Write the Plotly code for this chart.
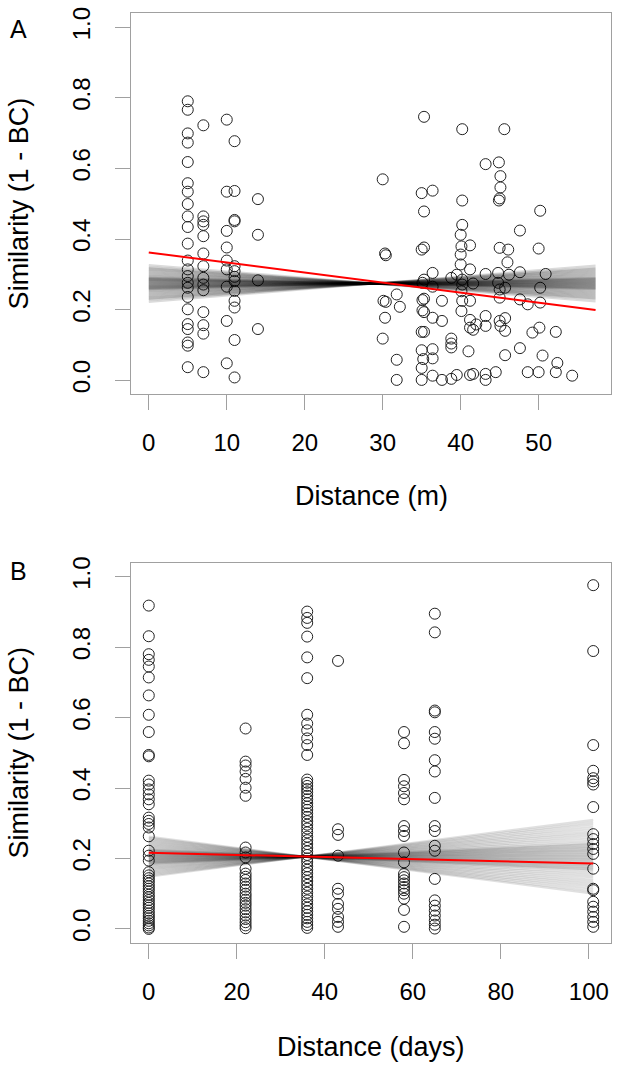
import plotly.graph_objects as go

# ---------------- Panel A data (distance in metres) ----------------
dist_m = (
    [5] * 23 + [7] * 14 + [10] * 9 + [11] * 13 + [14] * 4 +
    [35.3, 40.2, 45.6, 43.2, 44.9, 45.1, 45.1, 45.0, 44.9, 30.0, 35.0, 36.4, 35.3, 40.2, 50.2,
     47.6, 40.2, 40.0, 40.1, 41.2, 30.3, 30.4, 35.0, 35.3, 45.0, 46.1, 50.0, 40.0, 46.0, 40.0,
     41.2, 36.4, 38.8, 39.5, 43.2, 44.8, 46.2, 47.6, 50.9, 35.3, 35.1, 40.2, 40.2, 41.6, 44.8,
     45.0, 45.7, 50.2, 36.4, 31.8, 30.1, 30.4, 32.2, 35.1, 35.3, 37.6, 40.2, 41.2, 45.0, 47.6,
     48.6, 50.2, 30.3, 35.1, 35.3, 36.4, 37.6, 40.1, 41.2, 41.2, 41.6, 43.2, 43.2, 45.0, 45.7,
     45.7, 45.1, 50.1, 49.2, 52.2, 30.0, 35.0, 35.3, 38.8, 38.8, 38.8, 35.0, 36.4, 41.0, 47.6,
     45.7, 50.5, 31.8, 35.2, 36.4, 35.0, 52.4, 31.8, 35.0, 36.4, 37.6, 38.8, 39.5, 41.2, 41.6,
     43.2, 43.2, 44.5, 48.6, 50.0, 52.2, 54.3, 40.1, 42.0]
)
sim_m = (
    [0.790, 0.766, 0.699, 0.673, 0.618, 0.558, 0.534, 0.499, 0.464, 0.434, 0.387, 0.339,
     0.314, 0.295, 0.276, 0.262, 0.236, 0.201, 0.159, 0.145, 0.107, 0.098, 0.037] +
    [0.722, 0.464, 0.450, 0.440, 0.408, 0.359, 0.323, 0.290, 0.271, 0.255, 0.193, 0.156,
     0.132, 0.023] +
    [0.738, 0.534, 0.423, 0.376, 0.339, 0.314, 0.265, 0.168, 0.048] +
    [0.677, 0.536, 0.454, 0.450, 0.323, 0.309, 0.293, 0.281, 0.253, 0.225, 0.206, 0.114, 0.008] +
    [0.513, 0.412, 0.283, 0.145] +
    [0.746, 0.711, 0.711, 0.612, 0.617, 0.578, 0.546, 0.515, 0.509, 0.569, 0.530, 0.537, 0.478,
     0.509, 0.480, 0.424, 0.440, 0.412, 0.379, 0.382, 0.359, 0.354, 0.370, 0.376, 0.375, 0.370,
     0.373, 0.356, 0.334, 0.328, 0.314, 0.304, 0.290, 0.299, 0.301, 0.304, 0.299, 0.306, 0.301,
     0.285, 0.276, 0.285, 0.271, 0.274, 0.276, 0.257, 0.262, 0.262, 0.265, 0.243, 0.225, 0.222,
     0.208, 0.227, 0.231, 0.225, 0.225, 0.225, 0.234, 0.229, 0.215, 0.220, 0.177, 0.198, 0.193,
     0.177, 0.168, 0.196, 0.171, 0.149, 0.143, 0.182, 0.154, 0.168, 0.176, 0.140, 0.154, 0.149,
     0.135, 0.137, 0.118, 0.137, 0.137, 0.118, 0.104, 0.093, 0.085, 0.088, 0.082, 0.091, 0.071,
     0.070, 0.058, 0.060, 0.062, 0.035, 0.049, 0.001, 0.001, 0.013, 0.001, 0.004, 0.015, 0.015,
     0.018, 0.018, 0.001, 0.023, 0.023, 0.023, 0.023, 0.013, 0.252, 0.158]
)

# regression (red) and permutation fan for panel A
fit_A_intercept = 0.362
fit_A_slope = -0.00285
fit_A_xmax = 57.3
perm_A_pivot = (29.0, 0.274)
perm_A_slopes = [-0.0018, -0.0016, -0.0015, -0.0014, -0.0013, -0.0012, -0.0011, -0.0010,
                 -0.0009, -0.0008, -0.0007, -0.0006, -0.00055, -0.0005, -0.00045, -0.0004,
                 -0.00035, -0.0003, -0.00025, -0.0002, -0.00015, -0.0001, -0.00005, 0.0,
                 0.00005, 0.0001, 0.00015, 0.0002, 0.00025, 0.0003, 0.00035, 0.0004, 0.00045,
                 0.0005, 0.00055, 0.0006, 0.0007, 0.0008, 0.0009, 0.0010, 0.0011, 0.0012,
                 0.0013, 0.0014, 0.0015, 0.0016, 0.0018]

# ---------------- Panel B data (distance in days) ----------------
day_columns = [0, 22, 36, 43, 58, 65, 101]
sim_day0 = [0.918, 0.831, 0.780, 0.764, 0.745, 0.714, 0.663, 0.608, 0.559, 0.494, 0.490, 0.421,
            0.410, 0.396, 0.382, 0.368, 0.354, 0.316, 0.307, 0.298, 0.288, 0.263, 0.222, 0.208,
            0.194, 0.161, 0.152, 0.144, 0.137, 0.129, 0.121, 0.114, 0.106, 0.097, 0.090, 0.082,
            0.074, 0.067, 0.060, 0.052, 0.044, 0.037, 0.030, 0.023, 0.016, 0.010, 0.004, 0.0]
sim_day22 = [0.569, 0.475, 0.464, 0.447, 0.426, 0.401, 0.378, 0.231, 0.217, 0.203, 0.171,
             0.157, 0.148, 0.139, 0.129, 0.120, 0.111, 0.100, 0.092, 0.083, 0.074, 0.066,
             0.056, 0.047, 0.038, 0.028, 0.019, 0.010, 0.002]
sim_day36 = [0.901, 0.883, 0.869, 0.830, 0.771, 0.712, 0.608, 0.583, 0.564, 0.541, 0.522, 0.494,
             0.424, 0.415, 0.406, 0.397, 0.388, 0.378, 0.368, 0.357, 0.347, 0.338, 0.328, 0.318,
             0.306, 0.296, 0.285, 0.274, 0.262, 0.252, 0.241, 0.230, 0.220, 0.210, 0.200, 0.190,
             0.178, 0.168, 0.158, 0.147, 0.136, 0.125, 0.114, 0.103, 0.092, 0.081, 0.070, 0.060,
             0.050, 0.040, 0.030, 0.020, 0.011, 0.003]
sim_day43 = [0.761, 0.283, 0.267, 0.208, 0.114, 0.100, 0.071, 0.057, 0.034, 0.020, 0.006]
sim_day58 = [0.559, 0.527, 0.423, 0.405, 0.386, 0.368, 0.292, 0.278, 0.264, 0.217, 0.189,
             0.156, 0.147, 0.138, 0.129, 0.119, 0.110, 0.100, 0.086, 0.054, 0.006]
sim_day65 = [0.895, 0.842, 0.620, 0.615, 0.559, 0.540, 0.479, 0.447, 0.372, 0.292, 0.278,
             0.236, 0.222, 0.142, 0.081, 0.066, 0.052, 0.038, 0.024, 0.012, 0.001]
sim_day101 = [0.976, 0.789, 0.522, 0.449, 0.428, 0.419, 0.410, 0.346, 0.269, 0.255, 0.241,
              0.227, 0.213, 0.171, 0.114, 0.110, 0.077, 0.063, 0.049, 0.034, 0.020, 0.006]
sim_by_day = [sim_day0, sim_day22, sim_day36, sim_day43, sim_day58, sim_day65, sim_day101]

fit_B_intercept = 0.216
fit_B_slope = -0.0003
fit_B_xmax = 101
perm_B_pivot = (35.5, 0.205)
perm_B_slopes = [-0.0016, -0.0015, -0.0014, -0.0013, -0.0012, -0.0011, -0.0010, -0.0009,
                 -0.0008, -0.0007, -0.0006, -0.00055, -0.0005, -0.00045, -0.0004, -0.00035,
                 -0.0003, -0.00025, -0.0002, -0.00015, -0.0001, -0.00005, 0.0, 0.00005,
                 0.0001, 0.00015, 0.0002, 0.00025, 0.0003, 0.00035, 0.0004, 0.00045, 0.0005,
                 0.00055, 0.0006, 0.0007, 0.0008, 0.0009, 0.0010, 0.0011, 0.0012, 0.0013,
                 0.0014, 0.0015, 0.0016]

x_ticks_A = [0, 10, 20, 30, 40, 50]
x_ticks_B = [0, 20, 40, 60, 80, 100]
y_ticks = [0.0, 0.2, 0.4, 0.6, 0.8, 1.0]
y_tick_labels = ["0.0", "0.2", "0.4", "0.6", "0.8", "1.0"]

# ---------------- build figure ----------------
FONT = "Liberation Sans, Arial, sans-serif"
pt_color = "#222222"
fig = go.Figure()

marker = dict(symbol="circle-open", size=11, color=pt_color, line=dict(width=1, color=pt_color))

fig.add_trace(go.Scatter(x=dist_m, y=sim_m, mode="markers", marker=marker,
                         xaxis="x", yaxis="y", showlegend=False, hoverinfo="skip"))

days_x, days_y = [], []
for d, vals in zip(day_columns, sim_by_day):
    days_x += [d] * len(vals)
    days_y += vals
fig.add_trace(go.Scatter(x=days_x, y=days_y, mode="markers", marker=marker,
                         xaxis="x2", yaxis="y2", showlegend=False, hoverinfo="skip"))


def fan(slopes, pivot, xmax, xa, ya, alpha):
    px, py = pivot
    for s in slopes:
        fig.add_trace(go.Scatter(
            x=[0, xmax], y=[py + s * (0 - px), py + s * (xmax - px)],
            mode="lines", line=dict(color=f"rgba(0,0,0,{alpha})", width=2.2),
            xaxis=xa, yaxis=ya, showlegend=False, hoverinfo="skip"))


fan(perm_A_slopes, perm_A_pivot, fit_A_xmax, "x", "y", 0.14)
fan(perm_B_slopes, perm_B_pivot, fit_B_xmax, "x2", "y2", 0.12)

fig.add_trace(go.Scatter(x=[0, fit_A_xmax],
                         y=[fit_A_intercept, fit_A_intercept + fit_A_slope * fit_A_xmax],
                         mode="lines", line=dict(color="#FF0000", width=2),
                         xaxis="x", yaxis="y", showlegend=False, hoverinfo="skip"))
fig.add_trace(go.Scatter(x=[0, fit_B_xmax],
                         y=[fit_B_intercept, fit_B_intercept + fit_B_slope * fit_B_xmax],
                         mode="lines", line=dict(color="#FF0000", width=2),
                         xaxis="x2", yaxis="y2", showlegend=False, hoverinfo="skip"))

axis_common = dict(showline=True, mirror=True, linecolor="#A0A0A0", linewidth=1,
                   ticks="outside", ticklen=15, tickwidth=1, tickcolor="#A0A0A0",
                   showgrid=False, zeroline=False,
                   tickfont=dict(family=FONT, size=24, color="black"))

fig.update_layout(
    width=619, height=1067,
    margin=dict(l=131, r=7, t=9, b=124),
    paper_bgcolor="white", plot_bgcolor="white",
    xaxis=dict(domain=[0, 1], anchor="y", range=[-2.28, 59.28], tickvals=x_ticks_A,
               ticklabelstandoff=12, **axis_common),
    yaxis=dict(domain=[0.5899, 1], anchor="x", range=[-0.04, 1.04], tickvals=y_ticks,
               ticktext=y_tick_labels, tickangle=-90, ticklabelstandoff=15, **axis_common),
    xaxis2=dict(domain=[0, 1], anchor="y2", range=[-4.04, 105.04], tickvals=x_ticks_B,
                ticklabelstandoff=12, **axis_common),
    yaxis2=dict(domain=[0, 0.409], anchor="x2", range=[-0.04, 1.04], tickvals=y_ticks,
                ticktext=y_tick_labels, tickangle=-90, ticklabelstandoff=15, **axis_common),
)

title_font = dict(family=FONT, size=27, color="black")
ann = [
    dict(text="Distance (m)", x=0.5, y=0.4807, xref="paper", yref="paper",
         showarrow=False, font=title_font, xanchor="center", yanchor="middle"),
    dict(text="Distance (days)", x=0.5, y=-0.1113, xref="paper", yref="paper",
         showarrow=False, font=title_font, xanchor="center", yanchor="middle"),
    dict(text="Similarity (1 - BC)", x=-0.234, y=(0.5899 + 1) / 2, xref="paper", yref="paper",
         showarrow=False, font=title_font, textangle=-90, xanchor="center", yanchor="middle"),
    dict(text="Similarity (1 - BC)", x=-0.234, y=0.409 / 2, xref="paper", yref="paper",
         showarrow=False, font=title_font, textangle=-90, xanchor="center", yanchor="middle"),
    dict(text="A", x=-0.235, y=0.983, xref="paper", yref="paper",
         showarrow=False, font=dict(family=FONT, size=25, color="black"),
         xanchor="center", yanchor="middle"),
    dict(text="B", x=-0.235, y=0.400, xref="paper", yref="paper",
         showarrow=False, font=dict(family=FONT, size=25, color="black"),
         xanchor="center", yanchor="middle"),
]
fig.update_layout(annotations=ann)

fig.write_html("out.html", config={"displayModeBar": False},
               post_script="document.body.style.margin='0px';document.body.style.overflow='hidden';")
